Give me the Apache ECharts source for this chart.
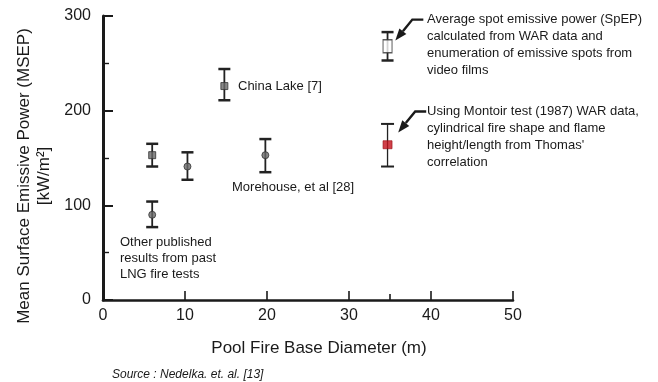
<!DOCTYPE html>
<html>
<head>
<meta charset="utf-8">
<script src="https://cdn.jsdelivr.net/npm/echarts@6/dist/echarts.min.js"></script>
<style>
  html, body { margin: 0; padding: 0; background: #fff; }
  #chart { width: 658px; height: 382px; }
</style>
</head>
<body>
<div id="chart"></div>
<script>
// Past LNG pool-fire tests: diameter (m), mean SEP and its range (kW/m²)
const pastDiameter = [6, 10.3, 14.8, 19.8, 6];
const pastMsep     = [153, 141, 226, 153, 90];
const pastLow      = [141, 127, 211, 135, 77];
const pastHigh     = [165, 156, 244, 170, 104];

// Montoir 35 m test: spot emissive power and cylindrical-flame estimate
const spepDiameter = [34.7];
const spepValue    = [268];
const spepLow      = [253];
const spepHigh     = [283];

const montoirDiameter = [34.7];
const montoirValue    = [164];
const montoirLow      = [141];
const montoirHigh     = [186];

// Axis ticks
const xTicks = [0, 10, 20, 30, 40, 50];
const yTicks = [0, 100, 200, 300];
const xExtraTick = [35];

// Arrow tips pointing at the two Montoir marks (data units)
const arrowTips = [[35.65, 274], [36.0, 177]];

const FONT = 'Liberation Sans, Arial, sans-serif';
const INK = '#1a1a1a';

function zip3(a, b, c) { return a.map((v, i) => [v, b[i], c[i]]); }
function zip2(a, b) { return a.map((v, i) => [v, b[i]]); }

function errorBars(capHalf, width, color) {
  return function (params, api) {
    const x = api.value(0);
    const top = api.coord([x, api.value(2)]);
    const bot = api.coord([x, api.value(1)]);
    const st = { stroke: color, lineWidth: width };
    const cap = { stroke: color, lineWidth: width + 0.7 };
    return {
      type: 'group',
      children: [
        { type: 'line', shape: { x1: top[0], y1: top[1], x2: bot[0], y2: bot[1] }, style: st },
        { type: 'line', shape: { x1: top[0] - capHalf, y1: top[1], x2: top[0] + capHalf, y2: top[1] }, style: cap },
        { type: 'line', shape: { x1: bot[0] - capHalf, y1: bot[1], x2: bot[0] + capHalf, y2: bot[1] }, style: cap }
      ]
    };
  };
}

function arrowItem(params, api) {
  const tip = api.coord([api.value(0), api.value(1)]);
  const elbow = [tip[0] + 17, tip[1] - 21];
  const end = [elbow[0] + 11, elbow[1]];
  const ang = Math.atan2(elbow[1] - tip[1], elbow[0] - tip[0]);
  const L = 12, W = 4.5;
  const bx = tip[0] + L * Math.cos(ang), by = tip[1] + L * Math.sin(ang);
  const px = -Math.sin(ang) * W, py = Math.cos(ang) * W;
  return {
    type: 'group',
    children: [
      { type: 'polyline', shape: { points: [[bx, by], elbow, end] },
        style: { stroke: INK, lineWidth: 2.4, fill: null } },
      { type: 'polygon', shape: { points: [tip, [bx + px, by + py], [bx - px, by - py]] },
        style: { fill: INK } }
    ]
  };
}

// Minor tick drawn on the x axis at the Montoir diameter
function xTickItem(params, api) {
  const p = api.coord([api.value(0), 0]);
  return { type: 'line', shape: { x1: p[0], y1: p[1], x2: p[0], y2: p[1] - 6 },
           style: { stroke: INK, lineWidth: 1.6 } };
}

function label(text, x, y, size, extra) {
  return {
    type: 'text', x: x, y: y, rotation: (extra && extra.rotation) || 0,
    style: Object.assign({
      text: text, fontSize: size, fontFamily: FONT, fill: INK,
      textAlign: 'left', textVerticalAlign: 'top'
    }, (extra && extra.style) || {})
  };
}

const chart = echarts.init(document.getElementById('chart'), null, { renderer: 'canvas' });

chart.setOption({
  animation: false,
  backgroundColor: '#fff',
  grid: { left: 103, right: 145, top: 16, bottom: 82, containLabel: false },
  xAxis: {
    type: 'value',
    min: xTicks[0], max: xTicks[xTicks.length - 1], interval: 10,
    axisLine: { lineStyle: { color: INK, width: 2.6 } },
    axisTick: { inside: true, length: 9, lineStyle: { color: INK, width: 1.6 } },
    axisLabel: { color: INK, fontSize: 16, fontFamily: FONT, margin: 8 },
    splitLine: { show: false }
  },
  yAxis: {
    type: 'value',
    min: yTicks[0], max: yTicks[yTicks.length - 1], interval: 100,
    axisLine: { lineStyle: { color: INK, width: 3 } },
    axisTick: { inside: true, length: 10, lineStyle: { color: INK, width: 2 } },
    minorTick: { show: true, splitNumber: 2, length: 6, lineStyle: { color: INK, width: 1.4 } },
    axisLabel: { color: INK, fontSize: 16, fontFamily: FONT, margin: 12,
                 formatter: v => (yTicks.indexOf(v) >= 0 ? String(v) : '') },
    splitLine: { show: false },
    minorSplitLine: { show: false }
  },
  graphic: [
    label('Mean Surface Emissive Power (MSEP)', 24, 176, 17,
      { rotation: Math.PI / 2, style: { textAlign: 'center', textVerticalAlign: 'middle' } }),
    label('[kW/m²]', 44, 176, 17,
      { rotation: Math.PI / 2, style: { textAlign: 'center', textVerticalAlign: 'middle' } }),
    label('Pool Fire Base Diameter (m)', 319, 348, 17,
      { style: { textAlign: 'center', textVerticalAlign: 'middle' } }),
    label('Source : Nedelka. et. al. [13]', 112, 375, 12,
      { style: { fontStyle: 'italic', textVerticalAlign: 'middle' } }),
    label('China Lake [7]', 238, 86, 13, { style: { textVerticalAlign: 'middle' } }),
    label('Morehouse, et al [28]', 232, 187, 13, { style: { textVerticalAlign: 'middle' } }),
    label('Other published\nresults from past\nLNG fire tests', 120, 234, 13,
      { style: { lineHeight: 16.3 } }),
    label('Average spot emissive power (SpEP)\ncalculated from WAR data and\nenumeration of emissive spots from\nvideo films',
      427, 11, 13, { style: { lineHeight: 17 } }),
    label('Using Montoir test (1987) WAR data,\ncylindrical fire shape and flame\nheight/length from Thomas\'\ncorrelation',
      427, 103, 13, { style: { lineHeight: 17 } })
  ],
  series: [
    {
      name: 'past-range', type: 'custom', renderItem: errorBars(6, 1.8, '#222'),
      data: zip3(pastDiameter, pastLow, pastHigh), z: 3, silent: true
    },
    {
      name: 'past', type: 'scatter',
      data: zip2(pastDiameter, pastMsep),
      symbol: (v, p) => (p.dataIndex === 0 || p.dataIndex === 2 ? 'rect' : 'circle'),
      symbolSize: 7,
      itemStyle: { color: '#6a6a6a', borderColor: '#333', borderWidth: 1 },
      z: 4, silent: true
    },
    {
      name: 'spep-range', type: 'custom', renderItem: errorBars(6, 1.8, '#222'),
      data: zip3(spepDiameter, spepLow, spepHigh), z: 3, silent: true
    },
    {
      name: 'spep', type: 'scatter',
      data: zip2(spepDiameter, spepValue),
      symbol: 'rect', symbolSize: [9, 13],
      itemStyle: { color: '#fff', borderColor: '#333', borderWidth: 1.2 },
      z: 4, silent: true
    },
    {
      name: 'montoir-range', type: 'custom', renderItem: errorBars(6.5, 1.3, '#222'),
      data: zip3(montoirDiameter, montoirLow, montoirHigh), z: 3, silent: true
    },
    {
      name: 'montoir', type: 'scatter',
      data: zip2(montoirDiameter, montoirValue),
      symbol: 'rect', symbolSize: [9, 8],
      itemStyle: { color: '#c4121c', borderColor: '#9a0e14', borderWidth: 0.8 },
      z: 4, silent: true
    },
    {
      name: 'arrows', type: 'custom', renderItem: arrowItem,
      data: arrowTips, z: 5, silent: true
    },
    {
      name: 'x-extra-tick', type: 'custom', renderItem: xTickItem,
      data: xExtraTick.map(v => [v]), z: 2, silent: true, clip: false
    }
  ]
});
</script>
</body>
</html>
